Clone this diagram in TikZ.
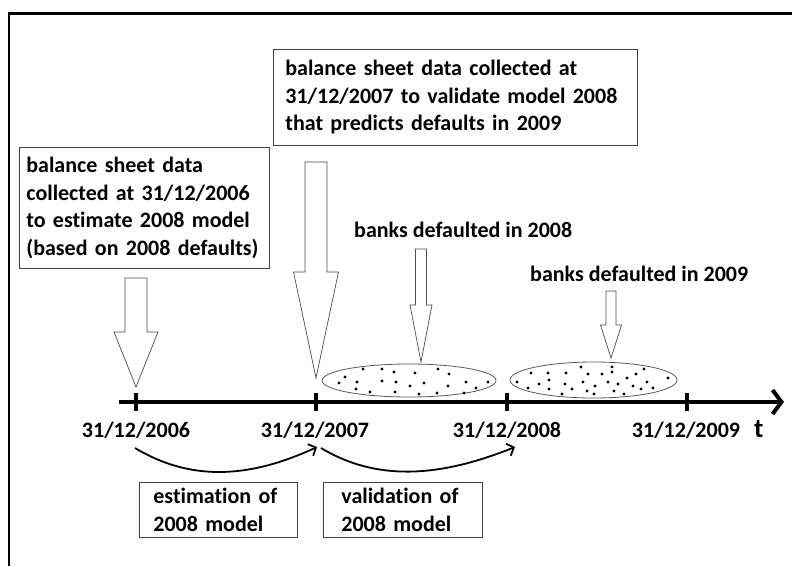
\documentclass[tikz,border=0pt]{standalone}
\usepackage{fontspec}
\setmainfont{Carlito}[Ligatures=NoCommon]
\usetikzlibrary{arrows.meta,shapes.geometric}

\tikzset{
  note/.style={draw=black!75, line width=0.8pt, anchor=north west, align=left,
    font=\fontsize{22}{27.5}\selectfont\bfseries, inner ysep=0pt,
    execute at begin node={\hyphenpenalty=10000\exhyphenpenalty=10000}},
  label/.style={inner sep=0pt, font=\fontsize{22}{27.5}\selectfont\bfseries},
  fatline/.style={draw=black!70, line width=0.7pt, fill=white},
  pool/.style={ellipse, draw=black!65, line width=0.8pt},
  span/.style={line width=1.8pt, -{Straight Barb[length=6pt,width=13pt]}},
}

\newcommand{\fatarrow}[6]{%
  \draw[fatline] (#1-#5,#2) -- (#1+#5,#2) -- (#1+#5,#3) -- (#1+#6,#3)
    -- (#1,#4) -- (#1-#6,#3) -- (#1-#5,#3) -- cycle;}

\begin{document}
\begin{tikzpicture}[x=1pt,y=-1pt]
  \useasboundingbox (0,0) rectangle (792,566);
  \draw[line width=2.5pt] (9,566) -- (9,13.5) -- (792,13.5);

  \node[note, text width=340pt, inner xsep=12pt, minimum height=96pt] (val) at (273,49)
    {balance sheet data collected at\\31/12/2007 to validate model 2008\\that predicts defaults in 2009};
  \node[note, text width=236pt, inner xsep=7pt, minimum height=121pt] (est) at (19,147)
    {balance sheet data\\collected at 31/12/2006\\to estimate 2008 model\\(based on 2008 defaults)};
  \node[label, anchor=base west] (d08) at (354,237) {banks defaulted in 2008};
  \node[label, anchor=base west] (d09) at (530,281) {banks defaulted in 2009};

  \fatarrow{136}{278}{332}{387}{11}{22}
  \fatarrow{316}{162}{272}{378}{11}{22.5}
  \fatarrow{421}{249}{305}{362}{5.5}{11}
  \fatarrow{611}{291}{325}{358}{5}{10.5}

  \node[pool, minimum width=174pt, minimum height=33pt] (p08) at (409,380.5) {};
  \node[pool, minimum width=167pt, minimum height=36pt] (p09) at (593.5,380) {};
  \foreach \x/\y in {363/369,382/369,394/372,415/373,438/369,449/374,345/377,339/383,
      357/382,382/381,396/382,410/386,424/383,448/386,466/382,476/388,488/382,356/389,
      370/392,395/392,419/394,437/393,464/393,
      531/373,548/373,566/373,581/367,588/374,602/374,612/367,612/372,636/374,644/369,
      668/378,517/382,539/384,549/380,565/384,583/382,595/386,608/382,618/384,627/378,
      633/386,647/382,528/388,549/389,572/389,587/391,594/394,562/394,614/391,624/394,
      641/389,653/388}
    \fill (\x,\y) circle (1.7pt);

  \coordinate (t0) at (119,402);
  \coordinate (t1) at (784,402);
  \draw[line width=4pt, -{Straight Barb[length=9pt,width=24pt]}] (t0) -- (t1);
  \foreach \x in {136,316,507,687}
    \draw[line width=4pt] (\x,393) -- (\x,411);

  \node[label] (y06) at (136,430) {31/12/2006};
  \node[label] (y07) at (315,430) {31/12/2007};
  \node[label] (y08) at (507,430) {31/12/2008};
  \node[label] (y09) at (686,430) {31/12/2009};
  \node[label, font=\fontsize{27}{30}\selectfont\bfseries, anchor=base west] (t) at (754,437) {t};

  \coordinate (a1) at (135,448);
  \coordinate (a2) at (317,447);
  \coordinate (b1) at (321,448);
  \coordinate (b2) at (515,447);
  \draw[span] (a1) .. controls (190,481) and (248,479) .. (a2);
  \draw[span] (b1) .. controls (376,481) and (438,478) .. (b2);

  \node[note, text width=130pt, inner xsep=14pt, minimum height=55pt] (fit) at (139,482)
    {estimation of\\2008 model};
  \node[note, text width=141pt, inner xsep=9pt, minimum height=55pt] (chk) at (323,482)
    {\hspace*{9pt}validation of\\\hspace*{9pt}2008 model};
\end{tikzpicture}
\end{document}
